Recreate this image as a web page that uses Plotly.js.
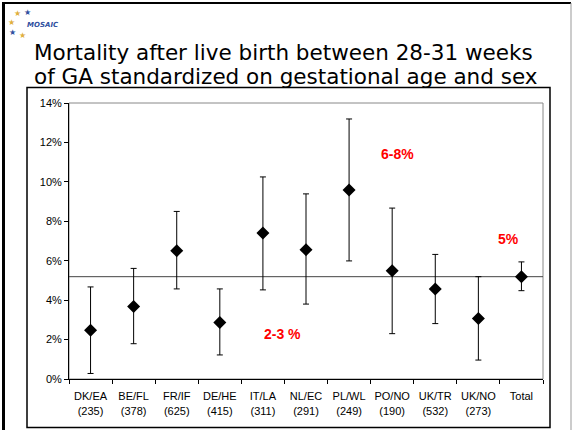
<!DOCTYPE html>
<html>
<head>
<meta charset="utf-8">
<script src="https://cdn.plot.ly/plotly-3.0.1.min.js"></script>
<style>
  html, body { margin: 0; padding: 0; background: #fff; }
  #chart { width: 574px; height: 430px; }
</style>
</head>
<body>
<div id="chart"></div>
<script>
// regions and cohort sizes
var regiones = ["DK/EA", "BE/FL", "FR/IF", "DE/HE", "IT/LA", "NL/EC", "PL/WL", "PO/NO", "UK/TR", "UK/NO", "Total"];
var tamanos = ["(235)", "(378)", "(625)", "(415)", "(311)", "(291)", "(249)", "(190)", "(532)", "(273)", ""];

// standardized mortality (%) and 95% CI
var mortalidad = [2.47, 3.68, 6.51, 2.87, 7.41, 6.56, 9.59, 5.49, 4.57, 3.07, 5.19];
var limiteSup  = [4.67, 5.61, 8.50, 4.57, 10.25, 9.39, 13.19, 8.67, 6.32, 5.19, 5.94];
var limiteInf  = [0.28, 1.79, 4.57, 1.22, 4.52, 3.80, 5.99, 2.30, 2.81, 0.96, 4.48];

// red notes on the chart
var notasTexto = ["6-8%", "2-3 %", "5%"];
var notasX = [7.13, 4.46, 9.71];
var notasY = [11.43, 2.30, 7.10];

var titulo1 = 'Mortality after live birth between 28-31 weeks';
var titulo2 = 'of GA standardized on gestational age and sex';

var etiquetas = regiones.map(function (r, i) { return tamanos[i] ? r + "<br>" + tamanos[i] : r + "<br> "; });
var errMas = limiteSup.map(function (v, i) { return v - mortalidad[i]; });
var errMenos = mortalidad.map(function (v, i) { return v - limiteInf[i]; });
var total = mortalidad[mortalidad.length - 1];

var traceA = {
  x: regiones,
  y: mortalidad,
  type: 'scatter',
  mode: 'markers',
  marker: { symbol: 'diamond', size: 10, color: '#000' },
  error_y: {
    type: 'data', symmetric: false,
    array: errMas, arrayminus: errMenos,
    color: '#000', thickness: 1, width: 3
  },
  hoverinfo: 'x+y'
};

// plot area 69..543 x 103..379 px
function px(x) { return (x - 69) / 474; }
function py(y) { return (379 - y) / 276; }

var notas = notasTexto.map(function (t, i) {
  return {
    text: '<b>' + t + '</b>', x: notasX[i], y: notasY[i], xref: 'x', yref: 'y',
    showarrow: false, font: { family: 'Liberation Sans, Arial', size: 14, color: '#ff0000' }
  };
});

[[titulo1, 52], [titulo2, 76]].forEach(function (t) {
  notas.push({
    text: t[0], xref: 'paper', yref: 'paper', x: px(32), y: py(t[1]), xanchor: 'left', yanchor: 'middle',
    showarrow: false, font: { family: 'DejaVu Sans', size: 21.5, color: '#000' }
  });
});
notas.push({
  text: '<i><b>MOSAIC</b></i>', xref: 'paper', yref: 'paper', x: px(25), y: py(19),
  xanchor: 'left', showarrow: false, font: { family: 'DejaVu Sans', size: 7, color: '#3050a0' }
});
var estrellas = [[12, 7, '#e0b040'], [22, 6, '#3050a0'], [6, 16, '#e0b040'], [7, 26, '#3050a0'], [17, 29, '#e0b040']];
estrellas.forEach(function (e) {
  notas.push({ text: '★', xref: 'paper', yref: 'paper', x: px(e[0]), y: py(e[1]), showarrow: false,
    font: { size: 8, color: e[2] } });
});

var layout = {
  width: 574, height: 430,
  margin: { l: 69, r: 31, t: 103, b: 51 },
  paper_bgcolor: '#fff', plot_bgcolor: '#fff',
  showlegend: false,
  font: { family: 'Liberation Sans, Arial', size: 11, color: '#000' },
  xaxis: {
    type: 'category', tickmode: 'array', tickvals: regiones, ticktext: etiquetas,
    tickson: 'boundaries', ticks: 'outside', ticklen: 4, tickcolor: '#000', tickangle: 0,
    ticklabelstandoff: 7,
    showline: true, linecolor: '#000', linewidth: 1, showgrid: false, zeroline: false,
    range: [-0.5, 10.5], tickfont: { size: 11 }
  },
  yaxis: {
    range: [0, 14], dtick: 2, ticksuffix: '%', ticks: 'outside', ticklen: 4, tickcolor: '#000',
    showline: true, linecolor: '#000', linewidth: 1, showgrid: false, zeroline: false,
    tickfont: { size: 11 }
  },
  shapes: [
    // slide frame
    { type: 'line', xref: 'paper', yref: 'paper', x0: px(3.5), x1: px(3.5), y0: py(2), y1: py(430), line: { color: '#000', width: 3 } },
    { type: 'line', xref: 'paper', yref: 'paper', x0: px(2), x1: px(571), y0: py(3), y1: py(3), line: { color: '#000', width: 2 } },
    { type: 'line', xref: 'paper', yref: 'paper', x0: px(571), x1: px(571), y0: py(3), y1: py(430), line: { color: '#999', width: 1 } },
    // chart box
    { type: 'rect', xref: 'paper', yref: 'paper', x0: px(27), x1: px(550), y0: py(87.5), y1: py(427.5), line: { color: '#000', width: 1.5 } },
    // plot area frame
    { type: 'rect', xref: 'paper', yref: 'paper', x0: 0, x1: 1, y0: 0, y1: 1, line: { color: '#888', width: 1 }, layer: 'below' },
    // overall level
    { type: 'line', xref: 'paper', yref: 'y', x0: 0, x1: 1, y0: total, y1: total, line: { color: '#444', width: 1 }, layer: 'below' }
  ],
  annotations: notas
};

Plotly.newPlot('chart', [traceA], layout, { staticPlot: true });
</script>
</body>
</html>
